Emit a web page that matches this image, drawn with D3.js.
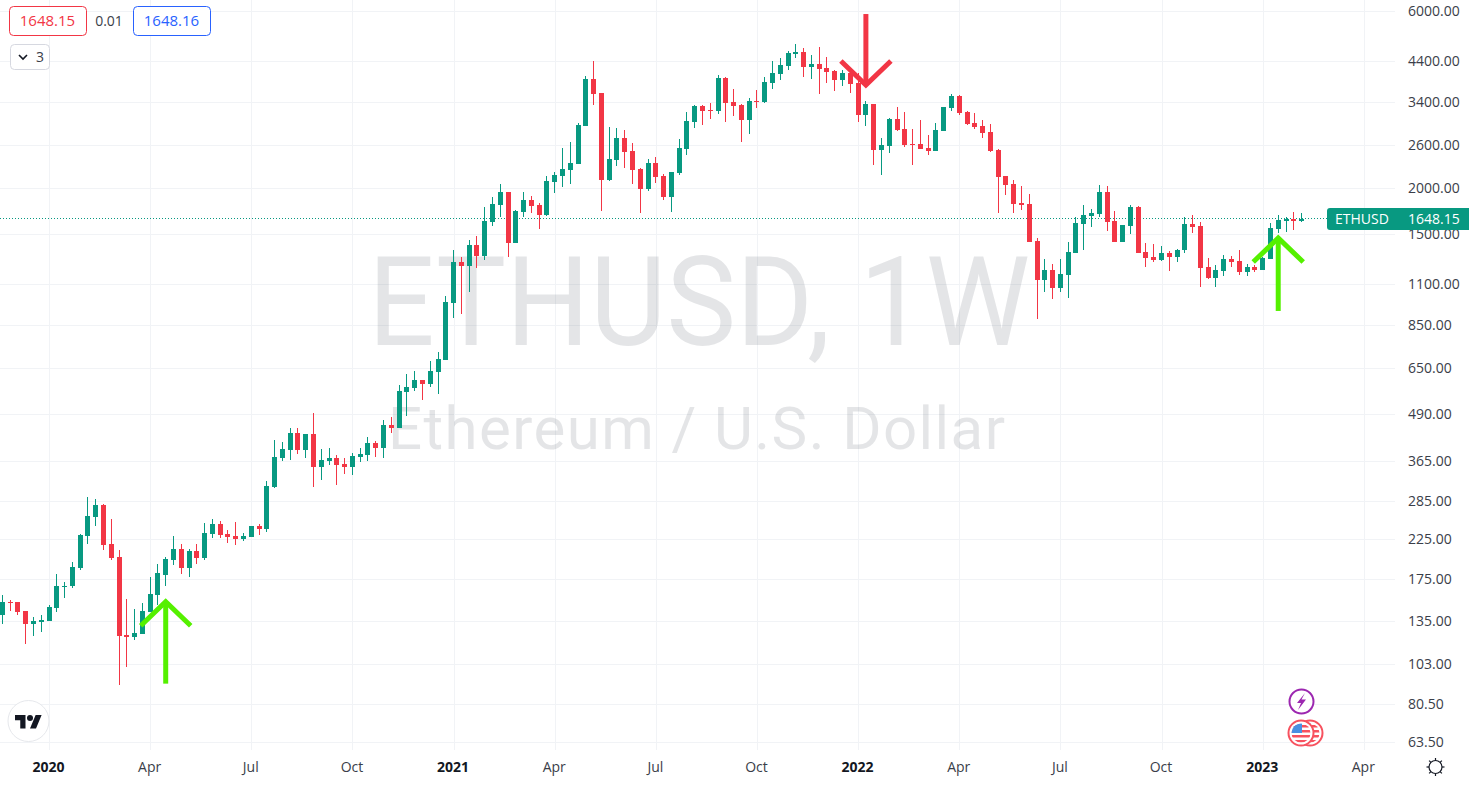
<!DOCTYPE html>
<html>
<head>
<meta charset="utf-8">
<title>ETHUSD, 1W</title>
<script src="https://cdn.jsdelivr.net/npm/d3@7"></script>
<style>
html, body { margin: 0; padding: 0; background: #fff; overflow: hidden; }
text { font-family: "Open Sans", sans-serif; }
</style>
</head>
<body>
<div id="chart"></div>
<script>
// weekly candles (first bar is the week of 25 Nov 2019)
var opens = [140.2,152.1,152.1,143.7,132.6,134.3,135.1,146.5,166.9,167.9,
	187.8,229.2,258.2,278,218.1,201.2,123.8,122.3,124.6,142.8,
	158.8,179.8,197.4,211.4,187.8,208.8,199.9,232,246.9,232,
	229.2,225,227.8,243.9,239.4,310.2,371.5,390.5,434.5,390.5,
	431.9,351.6,365,371.5,358.2,351.6,373.8,378.5,407.9,395.4,
	456.5,448,560.5,574.4,604.2,589,635,683.7,974.8,1258,
	1227,1399,1307,1614,1795,1946,1416,1718,1851,1795,
	1687,2070,2149,2231,2315,2934,3931,3602,2096,2374,
	2722,2511,2245,1982,2330,2149,1886,2190,2542,3007,
	3322,3241,3221,3955,3406,3343,3045,3427,3406,3833,
	4055,4262,4591,4649,4235,4316,4209,4131,3905,4080,
	3833,3142,3364,2526,2590,3064,2880,2622,2622,2558,
	2511,2844,3281,3535,3201,2988,2934,2826,2526,2149,
	2044,1817,1806,1434,1125,1197,1071,1161,1332,1594,
	1676,1698,1946,1624,1425,1574,1773,1340,1299,1274,
	1332,1299,1356,1594,1574,1220,1139,1190,1282,1266,
	1183,1220,1197,1282,1545,1624,1645,1624];
var highs = [158.8,153.9,152.1,143.7,138.4,140.2,149.3,180.9,172.1,195,
	232,291.9,288.1,279.7,255,210.1,155,145.5,151.1,177.6,
	192.6,201.2,229.2,218.1,211.4,218.1,248.5,255,251.6,237.9,
	250,233.5,243.9,246.9,322,416,410.4,448,448,431.9,
	491.8,393,395.4,378.5,371.5,383.2,395.4,423.9,413,470.9,
	479.8,585.3,627.2,639,604.2,680,718.5,1019,1356,1299,
	1443,1479,1773,1886,2044,1946,1740,1946,1898,1817,
	2149,2203,2558,2655,2988,4005,4396,3602,2916,2897,
	2862,2639,2259,2389,2419,2176,2203,2706,3201,3343,
	3343,3385,4030,3980,3692,3364,3490,3670,3980,4396,
	4478,4678,4887,4766,4563,4795,4506,4157,4157,4105,
	4080,3427,3364,2722,3083,3301,3201,2880,3045,2774,
	2988,3301,3580,3558,3221,3181,3045,2970,2542,2149,
	2096,2020,1922,1461,1282,1243,1282,1425,1666,1795,
	1751,2032,2020,1729,1584,1795,1784,1416,1407,1390,
	1348,1365,1666,1687,1614,1290,1235,1315,1307,1356,
	1243,1235,1299,1604,1687,1666,1718,1708];
var lows = [132.6,143.7,140.2,117.1,123,126.1,135.1,142.8,155.9,165.8,
	185.5,218.1,243.9,210.1,197.4,90.7,101.4,120,124.6,142.8,
	149.3,167.9,191.4,180.9,177.6,192.6,197.4,226.4,226.4,219.5,
	216.8,222.2,227.8,230.6,235,308.3,365,367,380.8,371.5,
	310.2,324.3,356,314.2,336.7,334.7,362.7,365,373.8,371.5,
	434.5,448,482.8,564,533.3,578,553.6,683.7,888.5,911,
	1044.5,1212,1274,1574,1666,1299,1416,1666,1708,1545,
	1676,1934,2007,2044,2315,2934,3343,1729,2083,2286,
	2259,2044,1708,1958,2057,1851,1718,2163,2449,2897,
	2952,3064,3162,3007,3123,2655,2792,3281,3385,3692,
	3905,4157,4478,3980,3931,3580,3833,3647,3763,3602,
	3007,2934,2301,2163,2480,2844,2574,2301,2542,2449,
	2511,2844,3221,3142,2952,2880,2722,2495,1708,1911,
	1708,1740,1425,883,1044,1000,1044,1006,1332,1356,
	1565,1666,1526,1425,1425,1498,1332,1220,1258,1266,
	1190,1258,1332,1507,1078,1132,1078,1154,1220,1161,
	1154,1183,1197,1282,1507,1517,1535,1614];
var closes = [152.1,151.1,142.8,132.6,135.1,135.9,147.4,167.9,167.9,189,
	230.6,259.8,278,216.8,199.9,123,122.3,125.3,143.7,159.8,
	182,198.7,211.4,187.8,208.8,199.9,233.5,246.9,230.6,227.8,
	225,229.2,243.9,239.4,312.2,373.8,393,434.5,390.5,431.9,
	351.6,367,371.5,356,351.6,376.1,380.8,407.9,395.4,456.5,
	448,564,578,604.2,589,639,687.9,981,1258,1227,
	1399,1307,1624,1806,1946,1416,1729,1851,1784,1687,
	2083,2163,2245,2330,2952,3931,3580,2096,2389,2722,
	2495,2231,1982,2330,2135,1886,2203,2558,3026,3322,
	3221,3221,3955,3385,3322,3045,3427,3406,3857,4080,
	4289,4620,4649,4235,4316,4183,4105,3905,4080,3809,
	3142,3364,2526,2606,3064,2862,2606,2606,2542,2511,
	2862,3301,3535,3181,2970,2916,2809,2511,2135,2032,
	1806,1795,1425,1125,1197,1071,1168,1340,1604,1687,
	1708,1946,1614,1425,1584,1773,1332,1290,1274,1332,
	1299,1356,1594,1565,1212,1139,1197,1282,1258,1183,
	1220,1197,1290,1554,1634,1645,1624,1648.15];

var priceTicks = [6000,4400,3400,2600,2000,1500,1100,850,650,490,365,285,225,175,135,103,80.5,63.5];
var timeTickWeeks = [6,19,32,45,58,71,84,97,110,123,136,149,162,175];
var timeTickLabels = ["2020","Apr","Jul","Oct","2021","Apr","Jul","Oct","2022","Apr","Jul","Oct","2023","Apr"];
var lastPrice = 1648.15;
var bidText = "1648.15", spreadText = "0.01", askText = "1648.16";

// hand drawn arrows on the chart: week and price of tip and tail
var arrowWeeks = [21, 111, 164];
var arrowTips = [152, 3786, 1461];
var arrowTails = [91.3, 5888, 928];
var arrowColors = ["#55f000", "#f23645", "#55f000"];

var config = {
	width : 1469,
	height : 786,
	paneRight : 1395,
	paneBottom : 750,
	barWidth : 5,
	up : "#089981",
	down : "#f23645",
	grid : "#f1f3f6",
	text : "#3a3e49"
};

var x = d3.scaleLinear().domain([0, 175]).range([2.33, 1363.8]);
var y = d3.scaleLog().domain([6000, 63.5]).range([11, 742]);

var svg = d3.select("#chart").append("svg")
	.attr("width", config.width)
	.attr("height", config.height)
	.style("display", "block");

// grid and tick labels
var yGrid = svg.append("g").call(d3.axisLeft(y).tickValues(priceTicks).tickSize(-config.paneRight).tickFormat(""));
yGrid.select(".domain").remove();
yGrid.selectAll("line").attr("stroke", config.grid).attr("shape-rendering", "crispEdges");

var xGrid = svg.append("g").attr("transform", "translate(0," + config.paneBottom + ")")
	.call(d3.axisTop(x).tickValues(timeTickWeeks).tickSize(config.paneBottom).tickFormat(""));
xGrid.select(".domain").remove();
xGrid.selectAll("line").attr("stroke", config.grid).attr("shape-rendering", "crispEdges");

// watermark
svg.append("text").attr("x", 368).attr("y", 345)
	.attr("textLength", 662).attr("lengthAdjust", "spacingAndGlyphs")
	.style("font-family", "Roboto").style("font-size", "125px")
	.attr("fill", "rgba(120,123,134,0.2)").text("ETHUSD, 1W");
svg.append("text").attr("x", 388).attr("y", 449)
	.attr("textLength", 617)
	.style("font-family", "Roboto").style("font-size", "60px")
	.attr("fill", "rgba(120,123,134,0.2)").text("Ethereum / U.S. Dollar");

// last price line
svg.append("line")
	.attr("x1", 0).attr("x2", 1327)
	.attr("y1", Math.floor(y(lastPrice)) + 0.5).attr("y2", Math.floor(y(lastPrice)) + 0.5)
	.attr("stroke", config.up).attr("stroke-dasharray", "1,2");

// candles
var candles = svg.append("g").selectAll("g")
	.data(d3.range(opens.length))
	.enter().append("g")
	.attr("shape-rendering", "crispEdges")
	.attr("fill", function(i){return closes[i] >= opens[i] ? config.up : config.down;});

// wick, then body on top of it
candles.append("rect")
	.attr("x", function(i){return Math.floor(x(i));})
	.attr("width", 1)
	.attr("y", function(i){return Math.round(y(highs[i]));})
	.attr("height", function(i){return Math.max(1, Math.round(y(lows[i])) - Math.round(y(highs[i])));});
candles.append("rect")
	.attr("x", function(i){return Math.floor(x(i)) - 2;})
	.attr("width", config.barWidth)
	.attr("y", function(i){return Math.round(y(Math.max(opens[i], closes[i])));})
	.attr("height", function(i){return Math.max(1, Math.round(y(Math.min(opens[i], closes[i]))) - Math.round(y(Math.max(opens[i], closes[i]))));});

// arrows
var arrows = svg.append("g").selectAll("g")
	.data(d3.range(arrowWeeks.length))
	.enter().append("g")
	.attr("fill", "none")
	.attr("stroke-width", 5)
	.attr("stroke", function(i){return arrowColors[i];});
arrows.append("line")
	.attr("x1", function(i){return x(arrowWeeks[i]);})
	.attr("x2", function(i){return x(arrowWeeks[i]);})
	.attr("y1", function(i){return y(arrowTips[i]);})
	.attr("y2", function(i){return y(arrowTails[i]);});
arrows.append("path")
	.attr("d", function(i){
		var tx = x(arrowWeeks[i]), ty = y(arrowTips[i]);
		var dy = arrowTails[i] < arrowTips[i] ? 24 : -24;
		return d3.line()([[tx - 25, ty + dy], [tx, ty], [tx + 25, ty + dy]]);
	});

// price axis
var yAxis = svg.append("g").attr("transform", "translate(1408,0)")
	.call(d3.axisRight(y).tickValues(priceTicks).tickSize(0).tickPadding(0).tickFormat(d3.format(".2f")));
yAxis.select(".domain").remove();
yAxis.selectAll("text").style("font-family", "Open Sans").style("font-size", "14px").attr("fill", config.text);

// time axis
var xAxis = svg.append("g").attr("transform", "translate(-1,762)")
	.call(d3.axisBottom(x).tickValues(timeTickWeeks).tickSize(0).tickPadding(0)
		.tickFormat(function(d, i){return timeTickLabels[i];}));
xAxis.select(".domain").remove();
xAxis.selectAll("text")
	.style("font-family", "Open Sans").style("font-size", "14px")
	.style("font-weight", function(d, i){return timeTickLabels[i].length == 4 ? 700 : 400;})
	.attr("fill", function(d, i){return timeTickLabels[i].length == 4 ? "#131722" : config.text;});

// last price label
var labelY = Math.round(y(lastPrice));
svg.append("path")
	.attr("d", "M1469," + (labelY - 11) + "H1330a3,3 0 0 0 -3,3V" + (labelY + 8) + "a3,3 0 0 0 3,3H1469Z")
	.attr("fill", config.up);
svg.append("text").attr("x", 1335).attr("y", labelY + 5).attr("fill", "#fff")
	.style("font-size", "14px").style("font-weight", 500).text("ETHUSD");
svg.append("text").attr("x", 1408).attr("y", labelY + 5).attr("fill", "#fff")
	.style("font-size", "14px").style("font-weight", 500).text(d3.format(".2f")(lastPrice));

// trading buttons, top left
function box(bx, by, w, h, stroke, label, color) {
	svg.append("rect").attr("x", bx + 0.5).attr("y", by + 0.5).attr("width", w).attr("height", h)
		.attr("rx", 4).attr("fill", "#fff").attr("stroke", stroke);
	svg.append("text").attr("x", bx + w / 2).attr("y", by + h / 2 + 5).attr("text-anchor", "middle")
		.attr("fill", color).style("font-size", "15px").text(label);
}
box(9, 6, 77, 29, "#f23645", bidText, "#f23645");
box(133, 6, 77, 29, "#2962ff", askText, "#2962ff");
svg.append("text").attr("x", 109).attr("y", 26).attr("text-anchor", "middle")
	.attr("fill", config.text).style("font-size", "14px").text(spreadText);
box(10, 44, 39, 25, "#d6d8e0", "", "#131722");
svg.append("path").attr("d", "M19,55l4,4l4,-4").attr("fill", "none").attr("stroke", "#131722").attr("stroke-width", 1.6);
svg.append("text").attr("x", 36).attr("y", 62).attr("fill", "#3a3e49").style("font-size", "14px").text("3");

// TradingView badge
svg.append("circle").attr("cx", 28.5).attr("cy", 721).attr("r", 20.5).attr("fill", "#fff").attr("stroke", "#e6e8ec").attr("stroke-width", 1);
var logo = svg.append("g").attr("transform", "translate(15,712) scale(0.75)").attr("fill", "#131722");
logo.append("path").attr("d", "M14 22H7V11H0V4h14v18zM28 22h-8l7.5-18h8L28 22z");
logo.append("circle").attr("cx", 20).attr("cy", 8).attr("r", 4);

// event icons near the right edge
svg.append("circle").attr("cx", 1301.5).attr("cy", 701.5).attr("r", 12).attr("fill", "#fff").attr("stroke", "#9c27b0").attr("stroke-width", 2);
svg.append("path").attr("d", "M1305,693L1297,703H1301L1298,710L1306,699.5H1301.5Z").attr("fill", "#9c27b0");

function flag(cx, cy, id) {
	var g = svg.append("g");
	svg.append("clipPath").attr("id", id).append("circle").attr("cx", cx).attr("cy", cy).attr("r", 9.5);
	g.append("circle").attr("cx", cx).attr("cy", cy).attr("r", 12.5).attr("fill", "#fff").attr("stroke", "#f7525f").attr("stroke-width", 2);
	var f = g.append("g").attr("clip-path", "url(#" + id + ")");
	f.append("rect").attr("x", cx - 10).attr("y", cy - 10).attr("width", 20).attr("height", 20).attr("fill", "#fff");
	d3.range(4).forEach(function(k){
		f.append("rect").attr("x", cx - 10).attr("y", cy - 8 + k * 5).attr("width", 20).attr("height", 2.5).attr("fill", "#f7525f");
	});
	f.append("rect").attr("x", cx - 10).attr("y", cy - 10).attr("width", 11).attr("height", 10).attr("fill", "#4a90e2");
}
flag(1310, 733, "flagBack");
flag(1301, 733, "flagFront");

// settings icon
var gear = svg.append("g").attr("transform", "translate(1435.5,767)").attr("fill", "none").attr("stroke", "#131722").attr("stroke-width", 1.2);
gear.append("circle").attr("r", 6.5);
d3.range(8).forEach(function(k){
	var a = k * Math.PI / 4;
	gear.append("line")
		.attr("x1", 6.5 * Math.cos(a)).attr("y1", 6.5 * Math.sin(a))
		.attr("x2", 9 * Math.cos(a)).attr("y2", 9 * Math.sin(a));
});
</script>
</body>
</html>
